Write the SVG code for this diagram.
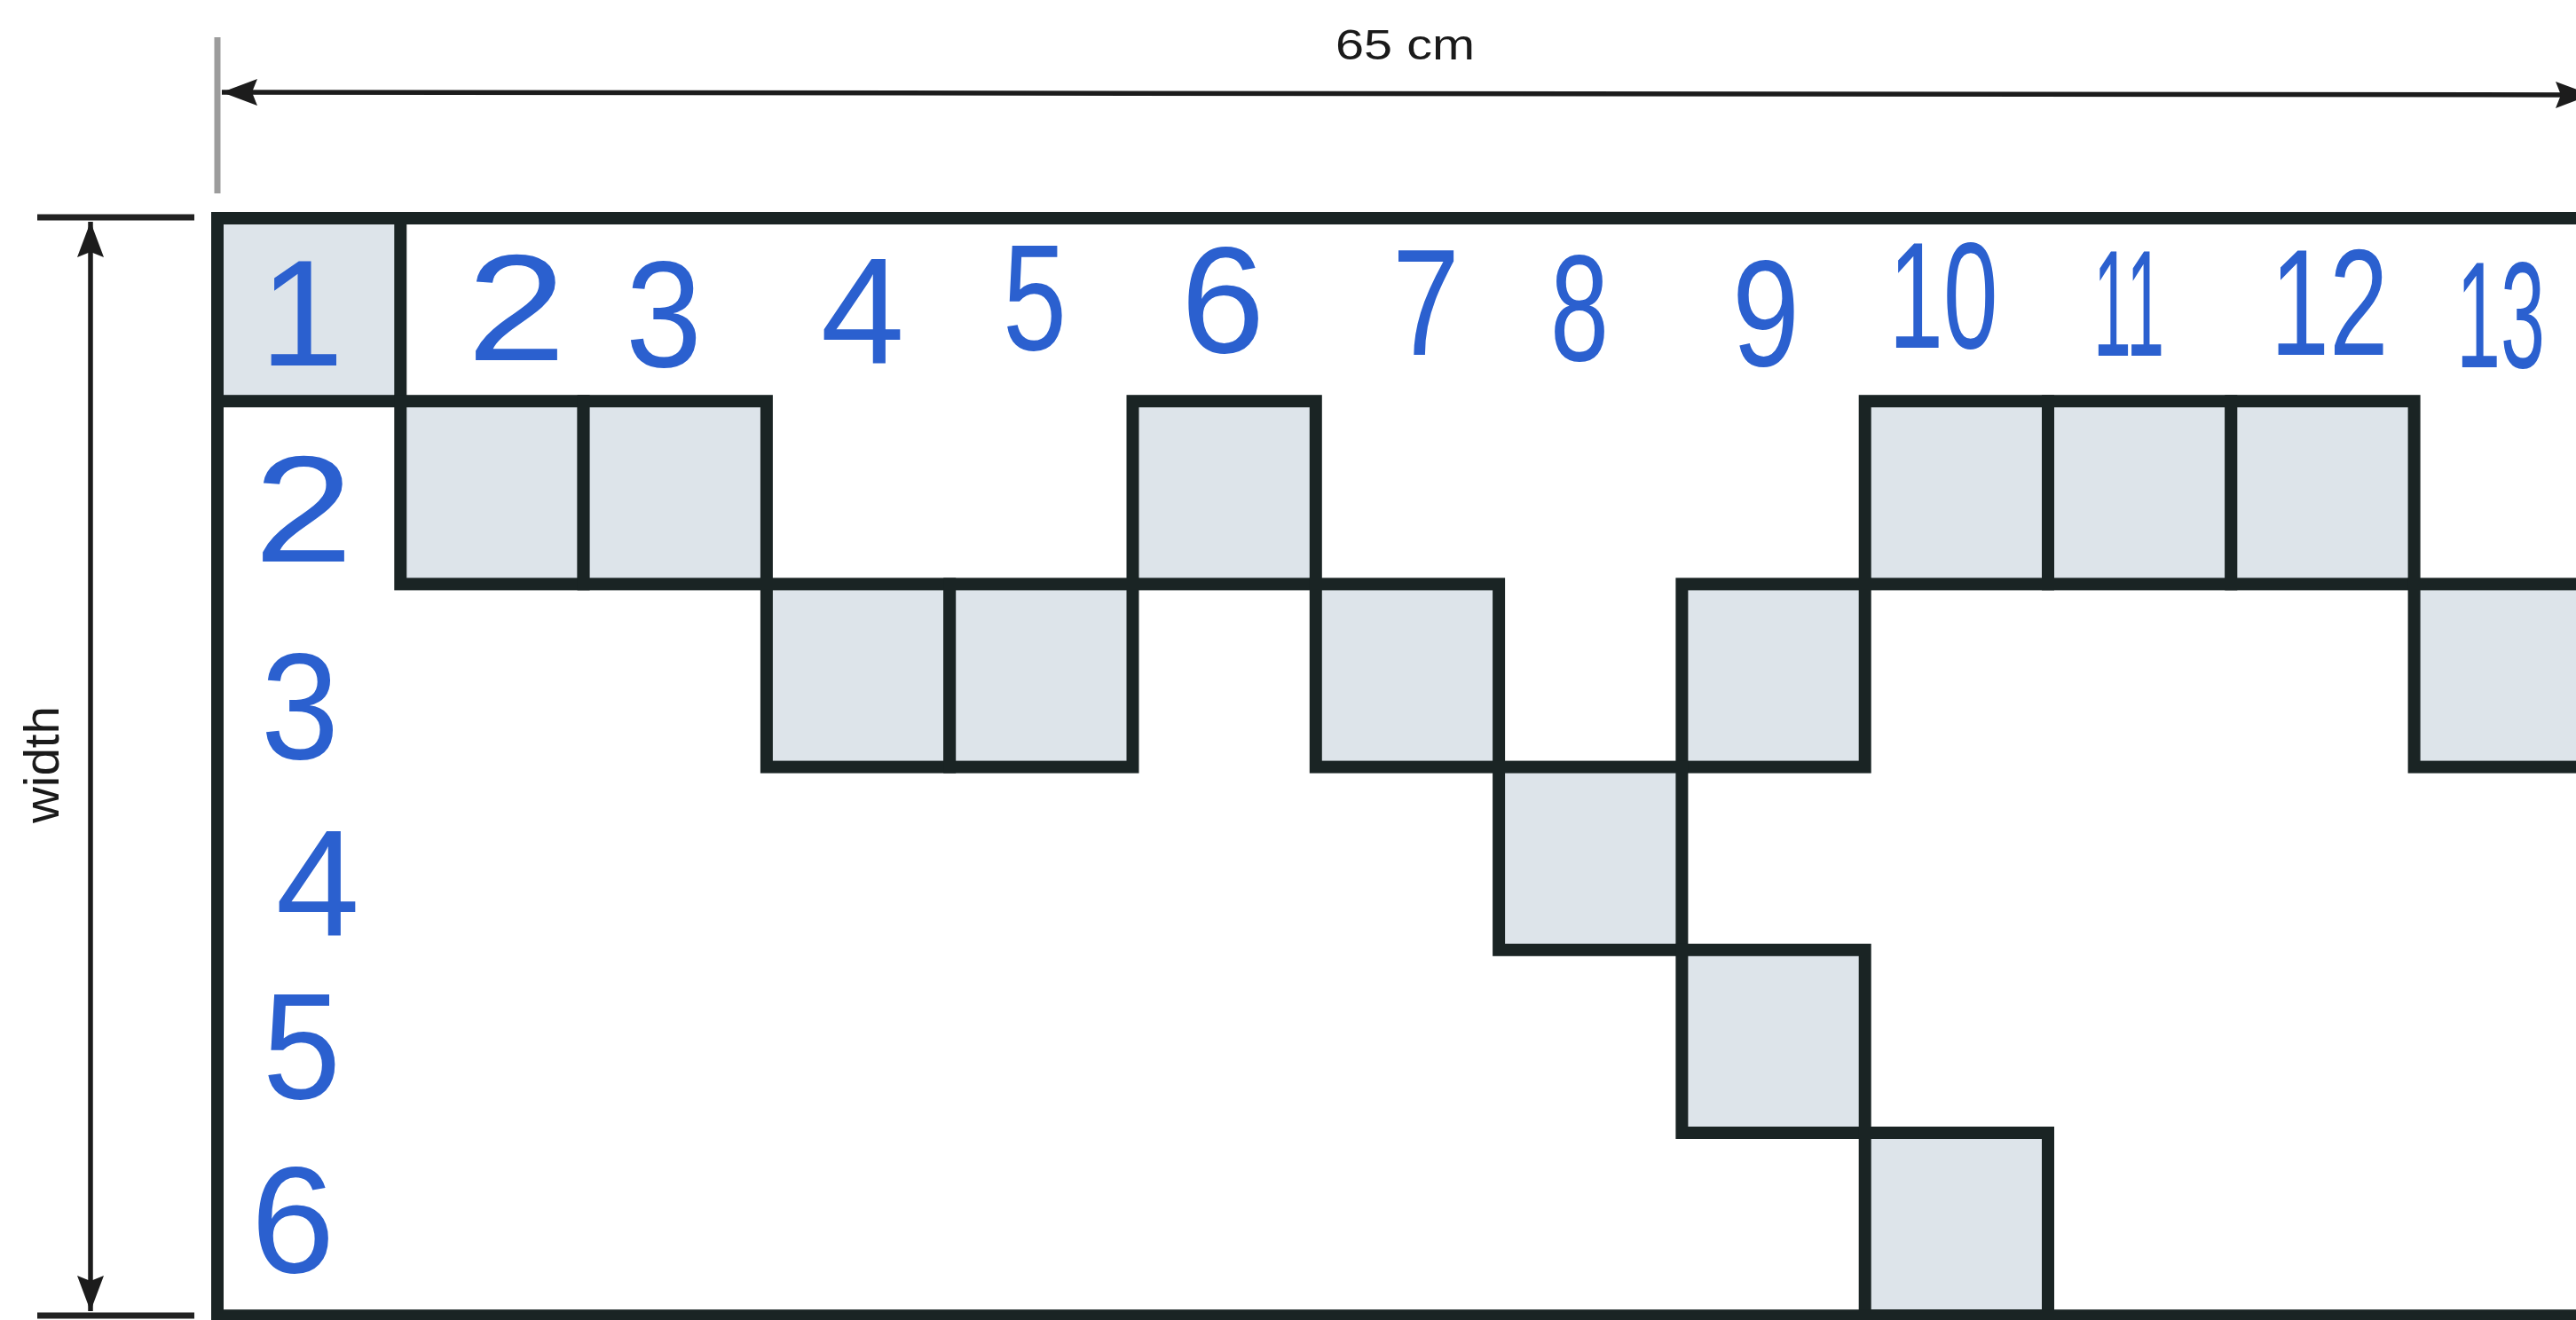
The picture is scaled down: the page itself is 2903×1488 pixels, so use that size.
<svg xmlns="http://www.w3.org/2000/svg" width="2903" height="1488" viewBox="0 0 2903 1488">
  <style>
    .cell { fill: #dde4ea; stroke: #1a2424; stroke-width: 14; stroke-linejoin: miter; }
    .border { fill: none; stroke: #1a2424; stroke-width: 14; }
    .dim { stroke: #1c1c1c; stroke-width: 5.5; fill: none; }
    .ext { stroke: #222222; stroke-width: 7; }
    .ext-grey { stroke: #9c9c9c; stroke-width: 7; }
    .num { font-family: "Liberation Sans", Arial, sans-serif; font-size: 170px; fill: #2b60cf; text-anchor: middle; }
    .lbl { font-family: "Liberation Sans", Arial, sans-serif; fill: #1a1a1a; }
  </style>
  <defs>
    <marker id="arrow" viewBox="0 0 40 30" refX="40" refY="15" markerWidth="40" markerHeight="30" markerUnits="userSpaceOnUse" orient="auto-start-reverse">
      <path d="M0,0 L40,15 L0,30 L6,15 z" fill="#1c1c1c"/>
    </marker>
  </defs>
  <rect x="0" y="0" width="2903" height="1488" fill="#ffffff"/>

  <!-- connectors / dimension lines -->
  <g id="connectors">
    <line class="ext-grey" x1="245" y1="42" x2="245" y2="218"/>
    <line class="ext" x1="42" y1="245" x2="219" y2="245"/>
    <line class="ext" x1="42" y1="1483" x2="219" y2="1483"/>
    <line class="dim" x1="250" y1="104" x2="2920" y2="107" marker-start="url(#arrow)" marker-end="url(#arrow)"/>
    <line class="dim" x1="102" y1="250" x2="102" y2="1478" marker-start="url(#arrow)" marker-end="url(#arrow)"/>
  </g>

  <g id="label-65cm">
    <text class="lbl" x="1505" y="67" font-size="48" textLength="157" lengthAdjust="spacingAndGlyphs">65 cm</text>
  </g>
  <g id="label-width">
    <text class="lbl" transform="translate(66,862) rotate(-90)" x="0" y="0" font-size="56" text-anchor="middle" textLength="132" lengthAdjust="spacingAndGlyphs">width</text>
  </g>

  <!-- grid: cell size 206.3 x 206.2, origin (245,246) -->
  <g id="grid">
    <g id="cell-1-1"><rect class="cell" x="245" y="246" width="206.3" height="206.2"/></g>
    <g id="cell-2-2"><rect class="cell" x="451.3" y="452.2" width="206.3" height="206.2"/></g>
    <g id="cell-3-2"><rect class="cell" x="657.6" y="452.2" width="206.3" height="206.2"/></g>
    <g id="cell-6-2"><rect class="cell" x="1276.5" y="452.2" width="206.3" height="206.2"/></g>
    <g id="cell-10-2"><rect class="cell" x="2101.7" y="452.2" width="206.3" height="206.2"/></g>
    <g id="cell-11-2"><rect class="cell" x="2308" y="452.2" width="206.3" height="206.2"/></g>
    <g id="cell-12-2"><rect class="cell" x="2514.3" y="452.2" width="206.3" height="206.2"/></g>
    <g id="cell-4-3"><rect class="cell" x="863.9" y="658.4" width="206.3" height="206.2"/></g>
    <g id="cell-5-3"><rect class="cell" x="1070.2" y="658.4" width="206.3" height="206.2"/></g>
    <g id="cell-7-3"><rect class="cell" x="1482.8" y="658.4" width="206.3" height="206.2"/></g>
    <g id="cell-9-3"><rect class="cell" x="1895.4" y="658.4" width="206.3" height="206.2"/></g>
    <g id="cell-13-3"><rect class="cell" x="2720.6" y="658.4" width="206.3" height="206.2"/></g>
    <g id="cell-8-4"><rect class="cell" x="1689.1" y="864.6" width="206.3" height="206.2"/></g>
    <g id="cell-9-5"><rect class="cell" x="1895.4" y="1070.8" width="206.3" height="206.2"/></g>
    <g id="cell-10-6"><rect class="cell" x="2101.7" y="1277" width="206.3" height="206.2"/></g>
    <g id="outer-border"><rect class="border" x="245" y="246" width="2682" height="1237.2"/></g>
  </g>

  <!-- column numbers -->
  <g id="column-numbers">
    <text class="num" x="340" y="412">1</text>
    <text class="num" x="582" y="406" textLength="112" lengthAdjust="spacingAndGlyphs">2</text>
    <text class="num" x="748" y="413" textLength="86" lengthAdjust="spacingAndGlyphs">3</text>
    <text class="num" x="972" y="410">4</text>
    <text class="num" x="1166" y="394" textLength="72" lengthAdjust="spacingAndGlyphs">5</text>
    <text class="num" x="1378" y="397">6</text>
    <text class="num" x="1607" y="400" textLength="76" lengthAdjust="spacingAndGlyphs">7</text>
    <text class="num" x="1780" y="406" textLength="66" lengthAdjust="spacingAndGlyphs">8</text>
    <text class="num" x="1990" y="412" textLength="76" lengthAdjust="spacingAndGlyphs">9</text>
    <text class="num" x="2190" y="392" textLength="123" lengthAdjust="spacingAndGlyphs">10</text>
    <text class="num" x="2399" y="401" textLength="80" lengthAdjust="spacingAndGlyphs">11</text>
    <text class="num" x="2625" y="400" textLength="133" lengthAdjust="spacingAndGlyphs">12</text>
    <text class="num" x="2818" y="414" textLength="100" lengthAdjust="spacingAndGlyphs">13</text>
  </g>

  <!-- row numbers -->
  <g id="row-numbers">
    <text class="num" x="342" y="633" font-size="178" textLength="112" lengthAdjust="spacingAndGlyphs">2</text>
    <text class="num" x="338" y="855" font-size="178" textLength="88" lengthAdjust="spacingAndGlyphs">3</text>
    <text class="num" x="358" y="1055" font-size="170">4</text>
    <text class="num" x="340" y="1238" font-size="178" textLength="88" lengthAdjust="spacingAndGlyphs">5</text>
    <text class="num" x="330" y="1434" font-size="178">6</text>
  </g>
</svg>
